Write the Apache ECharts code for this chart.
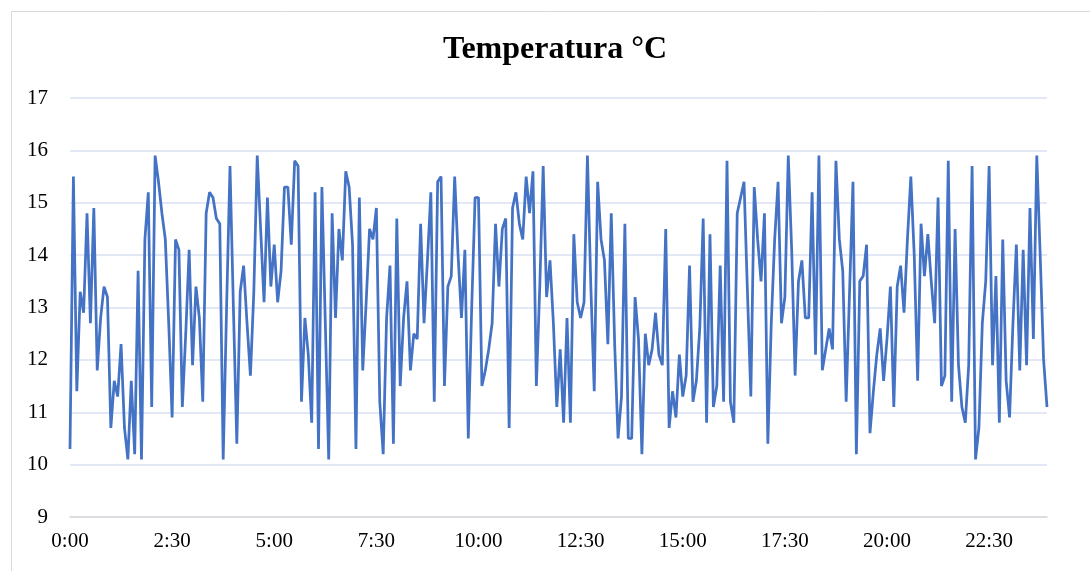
<!DOCTYPE html>
<html><head><meta charset="utf-8">
<script src="https://cdn.jsdelivr.net/npm/echarts@6/dist/echarts.min.js"></script>
<style>html,body{margin:0;padding:0;background:#fff}#c{width:1090px;height:571px}</style>
</head><body><div id="c"></div>
<script>
const titleText = "Temperatura °C";
const yTicks = [9, 10, 11, 12, 13, 14, 15, 16, 17];
const temps = [
10.3,15.5,11.4,13.3,12.9,14.8,12.7,14.9,11.8,12.8,13.4,13.2,10.7,11.6,11.3,12.3,10.7,10.1,11.6,10.2,
13.7,10.1,14.3,15.2,11.1,15.9,15.4,14.8,14.3,12.7,10.9,14.3,14.1,11.1,12.5,14.1,11.9,13.4,12.8,11.2,
14.8,15.2,15.1,14.7,14.6,10.1,13.0,15.7,13.0,10.4,13.3,13.8,12.7,11.7,13.3,15.9,14.5,13.1,15.1,13.4,
14.2,13.1,13.7,15.3,15.3,14.2,15.8,15.7,11.2,12.8,12.1,10.8,15.2,10.3,15.3,12.7,10.1,14.8,12.8,14.5,
13.9,15.6,15.3,14.2,10.3,15.1,11.8,13.1,14.5,14.3,14.9,11.2,10.2,12.8,13.8,10.4,14.7,11.5,12.8,13.5,
11.8,12.5,12.4,14.6,12.7,13.9,15.2,11.2,15.4,15.5,11.5,13.4,13.6,15.5,14.0,12.8,14.1,10.5,13.0,15.1,
15.1,11.5,11.8,12.2,12.7,14.6,13.4,14.5,14.7,10.7,14.9,15.2,14.6,14.3,15.5,14.8,15.6,11.5,13.4,15.7,
13.2,13.9,12.7,11.1,12.2,10.8,12.8,10.8,14.4,13.1,12.8,13.1,15.9,13.4,11.4,15.4,14.3,13.9,12.3,14.8,
12.3,10.5,11.3,14.6,10.5,10.5,13.2,12.4,10.2,12.5,11.9,12.2,12.9,12.1,11.9,14.5,10.7,11.4,10.9,12.1,
11.3,11.7,13.8,11.2,11.6,12.6,14.7,10.8,14.4,11.1,11.5,13.8,11.2,15.8,11.2,10.8,14.8,15.1,15.4,13.3,
11.3,15.3,14.3,13.5,14.8,10.4,12.7,14.3,15.4,12.7,13.2,15.9,14.1,11.7,13.5,13.9,12.8,12.8,15.2,12.1,
15.9,11.8,12.2,12.6,12.2,15.8,14.3,13.7,11.2,13.3,15.4,10.2,13.5,13.6,14.2,10.6,11.4,12.1,12.6,11.6,
12.4,13.4,11.1,13.4,13.8,12.9,14.3,15.5,14.0,11.6,14.6,13.6,14.4,13.5,12.7,15.1,11.5,11.7,15.8,11.2,
14.5,11.9,11.1,10.8,11.9,15.7,10.1,10.7,12.7,13.5,15.7,11.9,13.6,10.8,14.3,11.6,10.9,12.7,14.2,11.8,
14.1,11.9,14.9,12.4,15.9,14.0,12.0,11.1
];
const times = [];
for (let i = 0; i < temps.length; i++) {
  const m = i * 5;
  times.push(Math.floor(m / 60) + ':' + String(m % 60).padStart(2, '0'));
}
const chart = echarts.init(document.getElementById('c'), null, {renderer: 'canvas'});
chart.setOption({
  animation: false,
  backgroundColor: '#fff',
  graphic: [{
    type: 'rect', left: 9, top: 9,
    shape: {width: 1100, height: 600},
    style: {fill: 'none', stroke: '#d9d9d9', lineWidth: 1}
  }],
  title: {
    text: titleText, left: 438, top: 29,
    textStyle: {fontFamily: 'Liberation Serif', fontWeight: 'bold', fontSize: 32, color: '#000'}
  },
  grid: {left: 70, right: 43, top: 98, bottom: 54, containLabel: false},
  xAxis: {
    type: 'category', data: times, boundaryGap: false,
    axisTick: {show: false},
    axisLine: {lineStyle: {color: '#d9d9d9', width: 1.5}},
    axisLabel: {interval: 29, fontFamily: 'Liberation Serif', fontSize: 21, color: '#000', margin: 14},
    splitLine: {show: false}
  },
  yAxis: {
    type: 'value', min: yTicks[0], max: yTicks[yTicks.length - 1], interval: 1,
    axisLine: {show: false}, axisTick: {show: false},
    axisLabel: {fontFamily: 'Liberation Serif', fontSize: 21, color: '#000', margin: 22},
    splitLine: {lineStyle: {color: '#d9e1f2', width: 1.5}}
  },
  series: [{
    type: 'line', data: temps, showSymbol: false, symbol: 'none',
    lineStyle: {color: '#4472c4', width: 2.75}
  }]
});
</script></body></html>
